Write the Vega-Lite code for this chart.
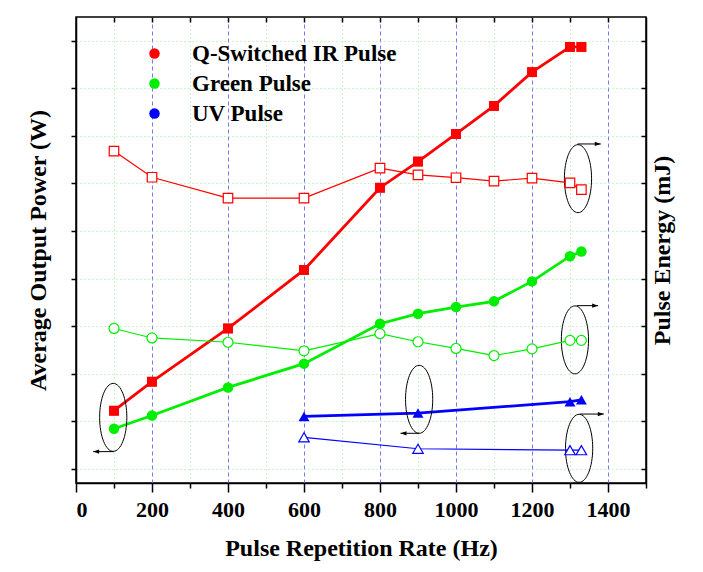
{
  "$schema": "https://vega.github.io/schema/vega-lite/v6.json",
  "width": 570,
  "height": 466,
  "autosize": "none",
  "padding": {"left": 76, "top": 17, "right": 57, "bottom": 89},
  "background": "white",
  "config": {
    "font": "Liberation Serif",
    "view": {"stroke": "black", "strokeWidth": 1.5},
    "axis": {
      "labelFont": "Liberation Serif", "labelFontWeight": "bold", "labelFontSize": 22, "labelColor": "black",
      "titleFont": "Liberation Serif", "titleFontWeight": "bold", "titleFontSize": 24, "titleColor": "black",
      "domainColor": "black", "domainWidth": 1.5, "tickColor": "black", "tickWidth": 1.5,
      "labelOverlap": false
    },
    "legend": {"labelFont": "Liberation Serif", "labelFontWeight": "bold", "labelFontSize": 23, "labelColor": "black"}
  },
  "datasets": {
    "power": [
      {"rate": 100, "series": "Q-Switched IR Pulse", "power": 0.72},
      {"rate": 200, "series": "Q-Switched IR Pulse", "power": 1.33},
      {"rate": 400, "series": "Q-Switched IR Pulse", "power": 2.45},
      {"rate": 600, "series": "Q-Switched IR Pulse", "power": 3.68},
      {"rate": 800, "series": "Q-Switched IR Pulse", "power": 5.41},
      {"rate": 900, "series": "Q-Switched IR Pulse", "power": 5.96},
      {"rate": 1000, "series": "Q-Switched IR Pulse", "power": 6.54},
      {"rate": 1100, "series": "Q-Switched IR Pulse", "power": 7.13},
      {"rate": 1200, "series": "Q-Switched IR Pulse", "power": 7.84},
      {"rate": 1300, "series": "Q-Switched IR Pulse", "power": 8.37},
      {"rate": 1330, "series": "Q-Switched IR Pulse", "power": 8.37},
      {"rate": 100, "series": "Green Pulse", "power": 0.34},
      {"rate": 200, "series": "Green Pulse", "power": 0.62},
      {"rate": 400, "series": "Green Pulse", "power": 1.21},
      {"rate": 600, "series": "Green Pulse", "power": 1.71},
      {"rate": 800, "series": "Green Pulse", "power": 2.55},
      {"rate": 900, "series": "Green Pulse", "power": 2.76},
      {"rate": 1000, "series": "Green Pulse", "power": 2.9},
      {"rate": 1100, "series": "Green Pulse", "power": 3.02},
      {"rate": 1200, "series": "Green Pulse", "power": 3.44},
      {"rate": 1300, "series": "Green Pulse", "power": 3.97},
      {"rate": 1330, "series": "Green Pulse", "power": 4.07},
      {"rate": 600, "series": "UV Pulse", "power": 0.6},
      {"rate": 900, "series": "UV Pulse", "power": 0.67},
      {"rate": 1300, "series": "UV Pulse", "power": 0.91},
      {"rate": 1330, "series": "UV Pulse", "power": 0.95}
    ],
    "energy": [
      {"rate": 100, "series": "Q-Switched IR Pulse", "energy": 7.18},
      {"rate": 200, "series": "Q-Switched IR Pulse", "energy": 6.63},
      {"rate": 400, "series": "Q-Switched IR Pulse", "energy": 6.19},
      {"rate": 600, "series": "Q-Switched IR Pulse", "energy": 6.19},
      {"rate": 800, "series": "Q-Switched IR Pulse", "energy": 6.82},
      {"rate": 900, "series": "Q-Switched IR Pulse", "energy": 6.68},
      {"rate": 1000, "series": "Q-Switched IR Pulse", "energy": 6.62},
      {"rate": 1100, "series": "Q-Switched IR Pulse", "energy": 6.55},
      {"rate": 1200, "series": "Q-Switched IR Pulse", "energy": 6.61},
      {"rate": 1300, "series": "Q-Switched IR Pulse", "energy": 6.51},
      {"rate": 1330, "series": "Q-Switched IR Pulse", "energy": 6.37},
      {"rate": 100, "series": "Green Pulse", "energy": 3.45},
      {"rate": 200, "series": "Green Pulse", "energy": 3.25},
      {"rate": 400, "series": "Green Pulse", "energy": 3.16},
      {"rate": 600, "series": "Green Pulse", "energy": 2.98},
      {"rate": 800, "series": "Green Pulse", "energy": 3.34},
      {"rate": 900, "series": "Green Pulse", "energy": 3.17},
      {"rate": 1000, "series": "Green Pulse", "energy": 3.03},
      {"rate": 1100, "series": "Green Pulse", "energy": 2.88},
      {"rate": 1200, "series": "Green Pulse", "energy": 3.02},
      {"rate": 1300, "series": "Green Pulse", "energy": 3.2},
      {"rate": 1330, "series": "Green Pulse", "energy": 3.2},
      {"rate": 600, "series": "UV Pulse", "energy": 1.16},
      {"rate": 900, "series": "UV Pulse", "energy": 0.92},
      {"rate": 1300, "series": "UV Pulse", "energy": 0.89},
      {"rate": 1330, "series": "UV Pulse", "energy": 0.89}
    ],
    "ellipses": [
      {"rate": 98, "power": 0.58},
      {"rate": 903, "power": 0.96},
      {"rate": 1321, "power": 5.6},
      {"rate": 1313, "power": 2.21},
      {"rate": 1324, "power": -0.07}
    ],
    "arrows": [
      {"rate": 100, "to": 45, "power": -0.14, "dir": "left"},
      {"rate": 903, "to": 854, "power": 0.245, "dir": "left"},
      {"rate": 1320, "to": 1381, "power": 6.33, "dir": "right"},
      {"rate": 1318, "to": 1374, "power": 2.93, "dir": "right"},
      {"rate": 1326, "to": 1389, "power": 0.65, "dir": "right"}
    ]
  },
  "layer": [
    {
      "layer": [
        {
          "data": {"name": "power"},
          "transform": [{"filter": "datum.series === 'Q-Switched IR Pulse'"}],
          "mark": {"type": "point", "shape": "square", "filled": true, "opacity": 1, "size": 95},
          "encoding": {
            "x": {
              "field": "rate", "type": "quantitative",
              "scale": {"domain": [0, 1500], "nice": false, "zero": false},
              "axis": {
                "orient": "bottom",
                "title": "Pulse Repetition Rate (Hz)",
                "values": [0, 100, 200, 300, 400, 500, 600, 700, 800, 900, 1000, 1100, 1200, 1300, 1400, 1500],
                "tickCount": 100,
                "labelExpr": "datum.value % 200 === 0 && datum.value <= 1400 ? datum.label : ''",
                "format": "d",
                "tickSize": 9,
                "tickDash": {"condition": {"test": "datum.value % 200 === 0", "value": [20, 0]}, "value": [5, 20]},
                "labelPadding": 7,
                "titlePadding": 16,
                "grid": true,
                "gridColor": {"condition": {"test": "datum.value % 200 === 0", "value": "#7777f2"}, "value": "#99ee99"},
                "gridDash": {"condition": {"test": "datum.value % 200 === 0", "value": [4, 3]}, "value": [1, 3]},
                "gridWidth": 1,
                "gridOpacity": {"condition": {"test": "datum.value > 0 && datum.value < 1500", "value": 1}, "value": 0}
              }
            },
            "y": {
              "field": "power", "type": "quantitative",
              "scale": {"domain": [-0.8, 9], "nice": false, "zero": false},
              "axis": {
                "orient": "left",
                "title": "Average Output Power (W)",
                "values": [-0.5, 0, 0.5, 1, 1.5, 2, 2.5, 3, 3.5, 4, 4.5, 5, 5.5, 6, 6.5, 7, 7.5, 8, 8.5, 9],
                "tickCount": 100,
                "format": "d",
                "labelExpr": "datum.value % 1 === 0 ? datum.label : ''",
                "tickSize": 9,
                "tickDash": {"condition": {"test": "datum.value % 1 === 0", "value": [20, 0]}, "value": [5, 20]},
                "labelPadding": 5,
                "titlePadding": 12,
                "grid": true,
                "gridColor": {"condition": {"test": "datum.value % 1 === 0", "value": "#7777f2"}, "value": "#99ee99"},
                "gridDash": {"condition": {"test": "datum.value % 1 === 0", "value": [4, 3]}, "value": [1, 3]},
                "gridWidth": 1,
                "gridOpacity": {"condition": {"test": "datum.value < 9", "value": 1}, "value": 0}
              }
            },
            "color": {
              "field": "series", "type": "nominal",
              "scale": {"domain": ["Q-Switched IR Pulse", "Green Pulse", "UV Pulse"], "range": ["#ff0000", "#00ee00", "#0000ff"]},
              "legend": {
                "orient": "none",
                "legendX": 67,
                "legendY": 25,
                "title": null,
                "padding": 0,
                "symbolSize": 110,
                "symbolStrokeWidth": 0,
                "labelOffset": 26,
                "rowPadding": 6,
                "labelFont": "Liberation Serif",
                "labelFontWeight": "bold",
                "labelFontSize": 23,
                "labelColor": "black",
                "labelLimit": 400
              }
            }
          }
        },
        {
          "data": {"name": "power"},
          "mark": {"type": "line", "strokeWidth": 2.8},
          "encoding": {
            "x": {"field": "rate", "type": "quantitative"},
            "y": {"field": "power", "type": "quantitative"},
            "color": {"field": "series", "type": "nominal"},
            "detail": {"field": "series"}
          }
        },
        {
          "data": {"name": "power"},
          "transform": [{"filter": "datum.series === 'Q-Switched IR Pulse'"}],
          "mark": {"type": "point", "shape": "square", "filled": true, "opacity": 1, "size": 95},
          "encoding": {
            "x": {"field": "rate", "type": "quantitative"},
            "y": {"field": "power", "type": "quantitative"},
            "color": {"field": "series", "type": "nominal"}
          }
        },
        {
          "data": {"name": "power"},
          "transform": [{"filter": "datum.series === 'Green Pulse'"}],
          "mark": {"type": "point", "shape": "circle", "filled": true, "opacity": 1, "size": 110},
          "encoding": {
            "x": {"field": "rate", "type": "quantitative"},
            "y": {"field": "power", "type": "quantitative"},
            "color": {"field": "series", "type": "nominal"}
          }
        },
        {
          "data": {"name": "power"},
          "transform": [{"filter": "datum.series === 'UV Pulse'"}],
          "mark": {"type": "point", "shape": "triangle-up", "filled": true, "opacity": 1, "size": 120},
          "encoding": {
            "x": {"field": "rate", "type": "quantitative"},
            "y": {"field": "power", "type": "quantitative"},
            "color": {"field": "series", "type": "nominal"}
          }
        },
        {
          "data": {"name": "ellipses"},
          "mark": {"type": "point", "shape": "M0,-1A0.4,1,0,1,1,0,1A0.4,1,0,1,1,0,-1Z", "size": 4624, "filled": false, "stroke": "black", "strokeWidth": 1, "opacity": 1},
          "encoding": {
            "x": {"field": "rate", "type": "quantitative"},
            "y": {"field": "power", "type": "quantitative"}
          }
        },
        {
          "data": {"name": "arrows"},
          "mark": {"type": "rule", "color": "black", "strokeWidth": 1},
          "encoding": {
            "x": {"field": "rate", "type": "quantitative"},
            "x2": {"field": "to"},
            "y": {"field": "power", "type": "quantitative"}
          }
        },
        {
          "data": {"name": "arrows"},
          "transform": [{"filter": "datum.dir === 'left'"}],
          "mark": {"type": "point", "shape": "M0,0L2,-0.7L2,0.7Z", "size": 36, "filled": true, "color": "black", "opacity": 1},
          "encoding": {
            "x": {"field": "to", "type": "quantitative"},
            "y": {"field": "power", "type": "quantitative"}
          }
        },
        {
          "data": {"name": "arrows"},
          "transform": [{"filter": "datum.dir === 'right'"}],
          "mark": {"type": "point", "shape": "M0,0L-2,-0.7L-2,0.7Z", "size": 36, "filled": true, "color": "black", "opacity": 1},
          "encoding": {
            "x": {"field": "to", "type": "quantitative"},
            "y": {"field": "power", "type": "quantitative"}
          }
        }
      ]
    },
    {
      "layer": [
        {
          "data": {"name": "energy"},
          "mark": {"type": "line", "strokeWidth": 1.2},
          "encoding": {
            "x": {
              "field": "rate", "type": "quantitative",
              "scale": {"domain": [0, 1500], "nice": false, "zero": false},
              "axis": {
                "orient": "top",
                "title": null,
                "values": [100, 200, 300, 400, 500, 600, 700, 800, 900, 1000, 1100, 1200, 1300, 1400],
                "tickCount": 100,
                "labels": false,
                "domain": false,
                "grid": false,
                "tickSize": -5
              }
            },
            "y": {
              "field": "energy", "type": "quantitative",
              "scale": {"domain": [0.2, 10], "nice": false, "zero": false},
              "axis": {
                "orient": "right",
                "title": "Pulse Energy (mJ)",
                "titleAngle": 270,
                "values": [0.5, 1, 1.5, 2, 2.5, 3, 3.5, 4, 4.5, 5, 5.5, 6, 6.5, 7, 7.5, 8, 8.5, 9, 9.5, 10],
                "tickCount": 100,
                "format": "d",
                "labelExpr": "datum.value % 1 === 0 ? datum.label : ''",
                "tickSize": -9,
                "tickDash": {"condition": {"test": "datum.value % 1 === 0", "value": [20, 0]}, "value": [5, 20]},
                "labelPadding": 20,
                "titlePadding": 17,
                "grid": false
              }
            },
            "color": {"field": "series", "type": "nominal"},
            "detail": {"field": "series"}
          }
        },
        {
          "data": {"name": "energy"},
          "transform": [{"filter": "datum.series === 'Q-Switched IR Pulse'"}],
          "mark": {"type": "point", "shape": "square", "filled": false, "fill": "white", "opacity": 1, "strokeWidth": 1.2, "size": 90},
          "encoding": {
            "x": {"field": "rate", "type": "quantitative"},
            "y": {"field": "energy", "type": "quantitative"},
            "color": {"field": "series", "type": "nominal"}
          }
        },
        {
          "data": {"name": "energy"},
          "transform": [{"filter": "datum.series === 'Green Pulse'"}],
          "mark": {"type": "point", "shape": "circle", "filled": false, "fill": "white", "opacity": 1, "strokeWidth": 1.2, "size": 100},
          "encoding": {
            "x": {"field": "rate", "type": "quantitative"},
            "y": {"field": "energy", "type": "quantitative"},
            "color": {"field": "series", "type": "nominal"}
          }
        },
        {
          "data": {"name": "energy"},
          "transform": [{"filter": "datum.series === 'UV Pulse'"}],
          "mark": {"type": "point", "shape": "triangle-up", "filled": false, "fill": "white", "opacity": 1, "strokeWidth": 1.2, "size": 110},
          "encoding": {
            "x": {"field": "rate", "type": "quantitative"},
            "y": {"field": "energy", "type": "quantitative"},
            "color": {"field": "series", "type": "nominal"}
          }
        }
      ]
    }
  ],
  "resolve": {"scale": {"y": "independent", "x": "independent"}, "axis": {"y": "independent", "x": "independent"}}
}
